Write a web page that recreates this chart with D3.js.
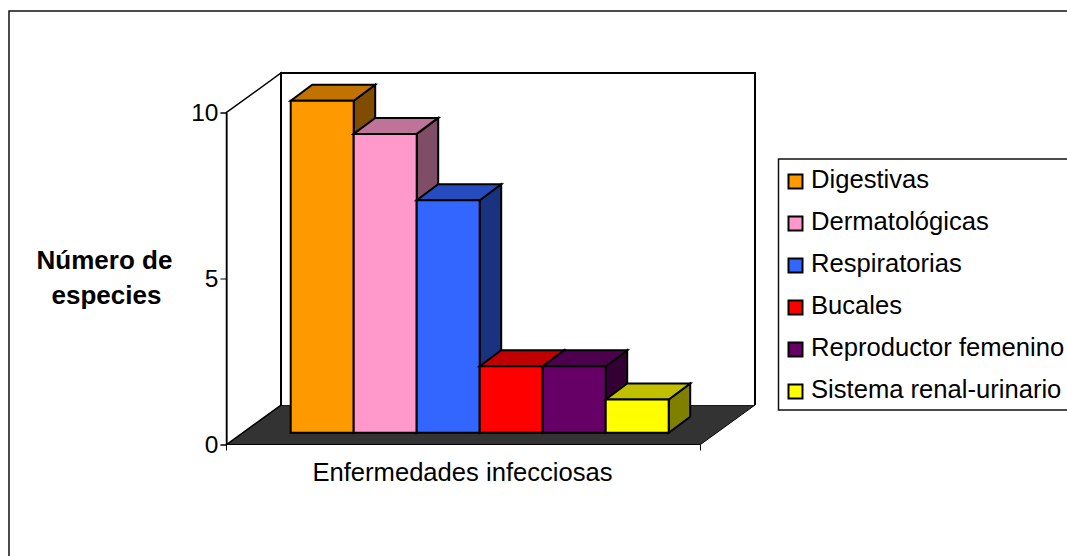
<!DOCTYPE html>
<html><head><meta charset="utf-8">
<script src="https://cdn.jsdelivr.net/npm/d3@7"></script>
<style>html,body{margin:0;padding:0;background:#fff;overflow:hidden}svg{display:block}text{font-family:"Liberation Sans",Arial,sans-serif;fill:#000}</style>
</head><body><svg id="c" width="1067" height="556"></svg>
<script>
const seriesNames = ["Digestivas","Dermatológicas","Respiratorias","Bucales","Reproductor femenino","Sistema renal-urinario"];
const seriesValues = [10,9,7,2,2,1];
const frontColors = ["#ff9900","#ff99cc","#3366ff","#ff0000","#660066","#ffff00"];
const topColors = ["#c07300","#c07399","#264dc0","#c00000","#4d004d","#c0c000"];
const sideColors = ["#804d00","#804d66","#1a3380","#800000","#330033","#808000"];
const yTicks = [0,5,10];
const categoryLabel = "Enfermedades infecciosas";
const yTitle = ["Número de","especies"];

const svg = d3.select("#c");
const y = d3.scaleLinear().domain([0,10]).range([444.5,112.5]);
const x = d3.scaleBand().domain(seriesNames).range([290.7,668.7]);
const depth = {dx:54.5, dy:-39.5};
const bar = {dx:21.5, dy:-16, lift:11.8};
const axisX0 = 226.5, axisX1 = 700.5;
const line = d3.line();
const fs = "25.6px";

// chart frame (runs off the right and bottom of the picture)
svg.append("rect").attr("x",9).attr("y",11).attr("width",1100).attr("height",600)
  .attr("fill","#fff").attr("stroke","#111").attr("stroke-width",1.5);

// walls and floor
svg.append("path").attr("d",line([[axisX0,y(0)],[axisX0+depth.dx,y(0)+depth.dy],[axisX1+depth.dx,y(0)+depth.dy],[axisX1,y(0)]])+"Z")
  .attr("fill","#333").attr("stroke","#000");
svg.append("path").attr("d",line([[axisX0+depth.dx,y(0)+depth.dy],[axisX0+depth.dx,y(10)+depth.dy],[axisX1+depth.dx,y(10)+depth.dy],[axisX1+depth.dx,y(0)+depth.dy]]))
  .attr("fill","#fff").attr("stroke","#000").attr("stroke-width",2);
svg.append("path").attr("d",line([[axisX0,y(0)],[axisX0,y(10)],[axisX0+depth.dx,y(10)+depth.dy],[axisX0+depth.dx,y(0)+depth.dy]])+"Z")
  .attr("fill","#fff").attr("stroke","#000").attr("stroke-width",1.5);
svg.append("path").attr("d",line([[axisX0+depth.dx,y(0)+depth.dy],[axisX0+depth.dx,y(10)+depth.dy]])).attr("stroke","#000").attr("stroke-width",2);

// axes
const yAxis = d3.axisLeft(y).tickValues(yTicks).tickSize(6).tickPadding(2);
const gy = svg.append("g").attr("transform",`translate(${axisX0},0)`).call(yAxis);
gy.select(".domain").attr("stroke","#000");
gy.selectAll("text").style("font-size","24.5px").style("font-family",'"Liberation Sans",Arial,sans-serif').attr("dy","0.33em");
svg.append("path").attr("d",line([[axisX0,y(0)],[axisX1,y(0)]])).attr("stroke","#000");
svg.append("path").attr("d",line([[axisX0,y(0)],[axisX0,y(0)+6]])).attr("stroke","#000");
svg.append("path").attr("d",line([[axisX1,y(0)],[axisX1,y(0)+6]])).attr("stroke","#000");

// bars
const by = v => y(v)-bar.lift;
const order = d3.range(seriesValues.length);
const g = svg.append("g").attr("stroke","#000").attr("stroke-width",2).attr("stroke-linejoin","miter");
order.forEach(i=>{
  const n = seriesNames[i], v = seriesValues[i];
  const x0 = x(n), x1 = x0+x.bandwidth(), t = by(v), b = by(0);
  g.append("path").attr("fill",sideColors[i]).attr("d",line([[x1,t],[x1+bar.dx,t+bar.dy],[x1+bar.dx,b+bar.dy],[x1,b]])+"Z");
  g.append("path").attr("fill",topColors[i]).attr("d",line([[x0,t],[x0+bar.dx,t+bar.dy],[x1+bar.dx,t+bar.dy],[x1,t]])+"Z");
  g.append("path").attr("fill",frontColors[i]).attr("d",line([[x0,t],[x1,t],[x1,b],[x0,b]])+"Z");
});

// category label
svg.append("text").attr("x",462.5).attr("y",481).attr("text-anchor","middle").style("font-size",fs).text(categoryLabel);

// y title
svg.selectAll(".yt").data(yTitle).join("text").attr("class","yt").attr("x",(d,i)=>i?106.5:104.5).attr("y",(d,i)=>269+i*35)
  .attr("text-anchor","middle").style("font-size","26px").style("font-weight","bold").text(d=>d);

// legend
const legendY = d3.scalePoint().domain(seriesNames).range([181.5,391.5]);
svg.append("rect").attr("x",778.5).attr("y",159).attr("width",320).attr("height",251).attr("fill","#fff").attr("stroke","#111").attr("stroke-width",1.5);
const lg = svg.selectAll(".lg").data(seriesNames).join("g").attr("class","lg").attr("transform",d=>`translate(0,${legendY(d)})`);
lg.append("rect").attr("x",788.5).attr("y",-7).attr("width",14).attr("height",14).attr("stroke","#000").attr("stroke-width",2).attr("fill",(d,i)=>frontColors[i]);
lg.append("text").attr("x",811).attr("y",6).style("font-size",fs).text(d=>d);
</script></body></html>
